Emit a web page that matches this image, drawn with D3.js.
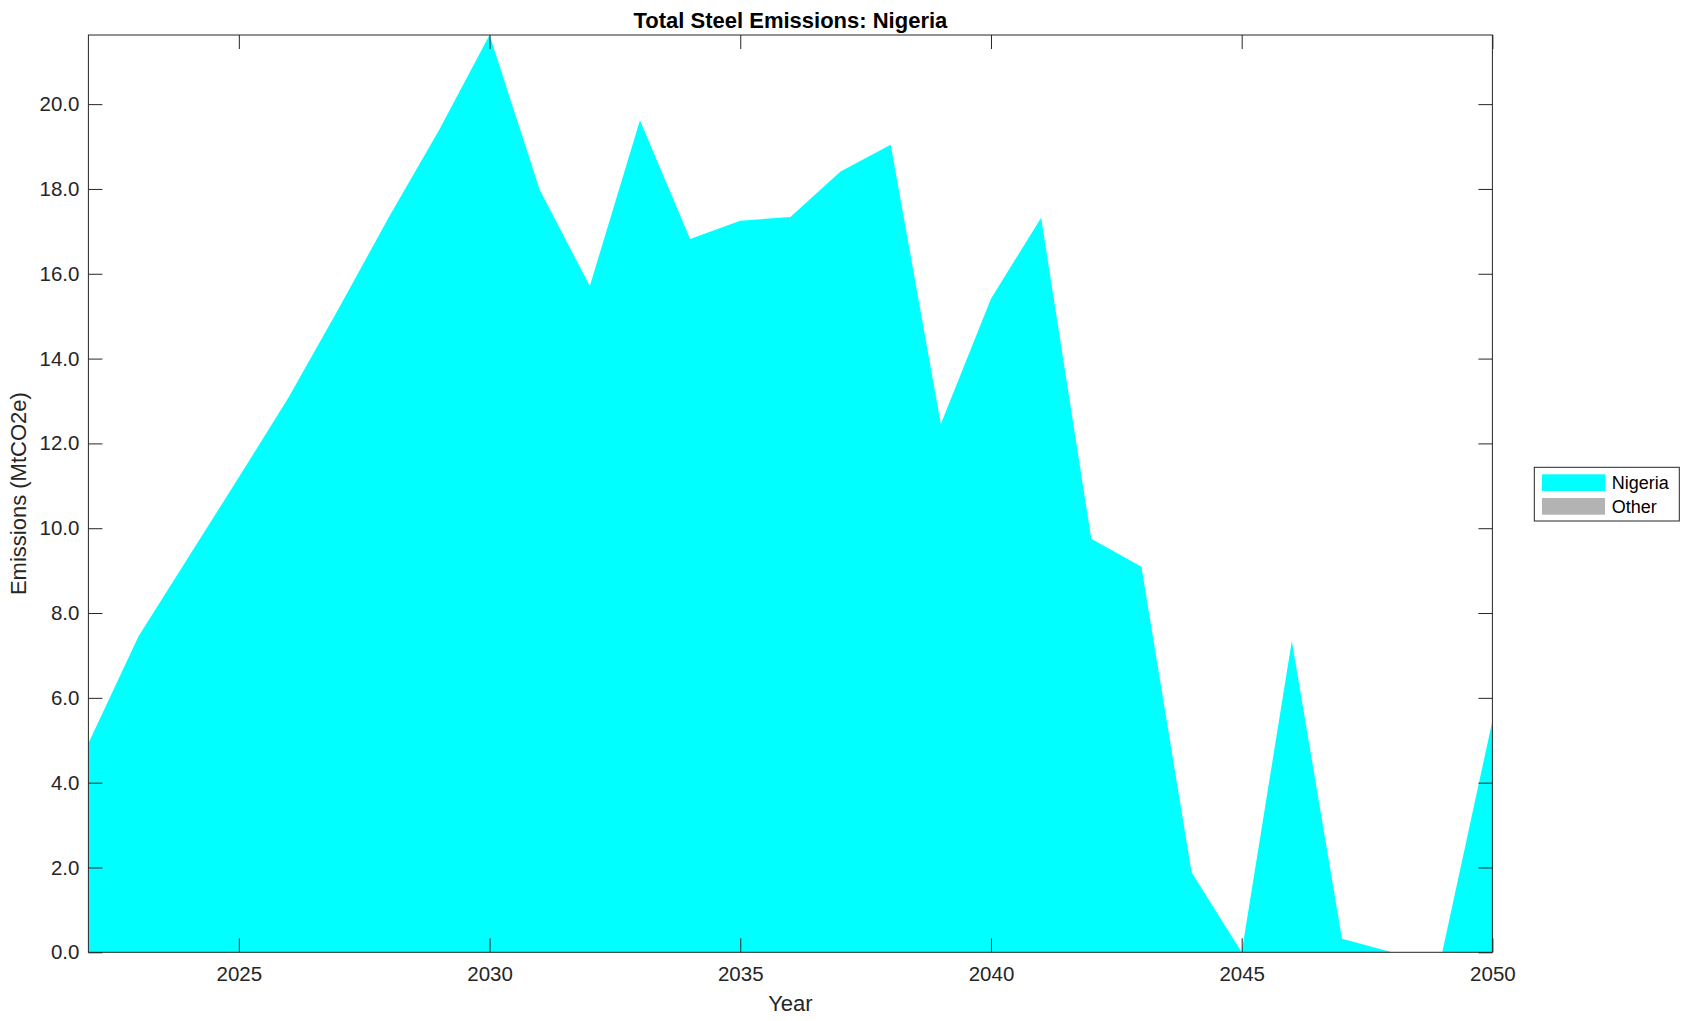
<!DOCTYPE html>
<html>
<head>
<meta charset="utf-8">
<script src="https://cdn.jsdelivr.net/npm/d3@7"></script>
<style>
  body { margin: 0; background: #fff; }
  text { font-family: "Liberation Sans", Arial, Helvetica, sans-serif; }
</style>
</head>
<body>
<div id="chart"></div>
<script>
// data
var years = d3.range(2022, 2051);
var nigeria = [4.93, 7.45, 9.33, 11.2, 13.1, 15.2, 17.35, 19.4, 21.63, 17.98,
               15.71, 19.62, 16.82, 17.25, 17.34, 18.41, 19.04, 12.46, 15.41, 17.32,
               9.75, 9.09, 1.89, 0, 7.34, 0.32, 0, 0, 5.46];
var other = years.map(function() { return 0; });
var seriesNames = ["Nigeria", "Other"];
var seriesColors = ["#00ffff", "#b3b3b3"];
var yTicks = [0, 2, 4, 6, 8, 10, 12, 14, 16, 18, 20];
var xTicks = [2025, 2030, 2035, 2040, 2045, 2050];

// note: "top" is window.top in the global scope, so plot edges get a prefix
var W = 1690, H = 1021,
    plotL = 88.4, plotR = 1492.4, plotT = 35, plotB = 952.3,
    axisColor = "#262626",
    tickLen = 14;

var rows = years.map(function(y, i) {
    return { year: y, Nigeria: nigeria[i], Other: other[i] };
});
var stacked = d3.stack().keys(seriesNames)(rows);

var x = d3.scaleLinear().domain([2022, 2050]).range([plotL, plotR]);
var yMax = d3.max(rows, function(d) { return d.Nigeria + d.Other; });
var y = d3.scaleLinear().domain([0, yMax]).range([plotB, plotT]);

var svg = d3.select("#chart").append("svg")
    .attr("width", W)
    .attr("height", H);

// stacked areas
var area = d3.area()
    .x(function(d) { return x(d.data.year); })
    .y0(function(d) { return y(d[0]); })
    .y1(function(d) { return y(d[1]); });

svg.selectAll("path.layer")
    .data(stacked)
    .enter()
    .append("path")
    .attr("class", "layer")
    .attr("d", area)
    .style("fill", function(d, i) { return seriesColors[i]; })
    .style("stroke", "none");

// axes, ticks pointing inwards
function styleAxis(g, size) {
    g.select(".domain").remove();
    g.selectAll("line").attr("stroke", axisColor).attr("stroke-width", 1);
    g.selectAll("text")
        .attr("fill", axisColor)
        .style("font-size", size + "px");
}

svg.append("g")
    .attr("transform", "translate(0," + plotB + ")")
    .call(d3.axisBottom(x).tickValues(xTicks).tickFormat(d3.format("d"))
        .tickSizeInner(-tickLen).tickSizeOuter(0).tickPadding(14))
    .call(styleAxis, 20.5);

svg.append("g")
    .attr("transform", "translate(0," + plotT + ")")
    .call(d3.axisTop(x).tickValues(xTicks).tickFormat("")
        .tickSizeInner(-tickLen).tickSizeOuter(0))
    .call(styleAxis, 20.5);

svg.append("g")
    .attr("transform", "translate(" + plotL + ",0)")
    .call(d3.axisLeft(y).tickValues(yTicks).tickFormat(d3.format(".1f"))
        .tickSizeInner(-tickLen).tickSizeOuter(0).tickPadding(9))
    .call(styleAxis, 20.5);

svg.append("g")
    .attr("transform", "translate(" + plotR + ",0)")
    .call(d3.axisRight(y).tickValues(yTicks).tickFormat("")
        .tickSizeInner(-tickLen).tickSizeOuter(0))
    .call(styleAxis, 20.5);

// box
svg.append("rect")
    .attr("x", plotL)
    .attr("y", plotT)
    .attr("width", plotR - plotL)
    .attr("height", plotB - plotT)
    .style("fill", "none")
    .style("stroke", axisColor)
    .style("stroke-width", 1);

// title and labels
svg.append("text")
    .attr("x", (plotL + plotR) / 2)
    .attr("y", 27.7)
    .attr("text-anchor", "middle")
    .style("font-size", "22px")
    .style("font-weight", "bold")
    .style("fill", "#000")
    .text("Total Steel Emissions: Nigeria");

svg.append("text")
    .attr("x", (plotL + plotR) / 2)
    .attr("y", 1010.7)
    .attr("text-anchor", "middle")
    .style("font-size", "22px")
    .style("fill", axisColor)
    .text("Year");

svg.append("text")
    .attr("transform", "translate(26," + (plotT + plotB) / 2 + ") rotate(-90)")
    .attr("text-anchor", "middle")
    .style("font-size", "22px")
    .style("fill", axisColor)
    .text("Emissions (MtCO2e)");

// legend
var legend = svg.append("g").attr("transform", "translate(1534.3,467.3)");

legend.append("rect")
    .attr("width", 145)
    .attr("height", 53.7)
    .style("fill", "#fff")
    .style("stroke", axisColor)
    .style("stroke-width", 1);

var items = legend.selectAll("g.item")
    .data(seriesNames)
    .enter()
    .append("g")
    .attr("class", "item")
    .attr("transform", function(d, i) { return "translate(0," + (i * 23.7) + ")"; });

items.append("rect")
    .attr("x", 7.7)
    .attr("y", 7)
    .attr("width", 63)
    .attr("height", 16.7)
    .style("fill", function(d, i) { return seriesColors[i]; });

items.append("text")
    .attr("x", 77.4)
    .attr("y", 21.9)
    .style("font-size", "18px")
    .style("fill", "#000")
    .text(function(d) { return d; });
</script>
</body>
</html>
